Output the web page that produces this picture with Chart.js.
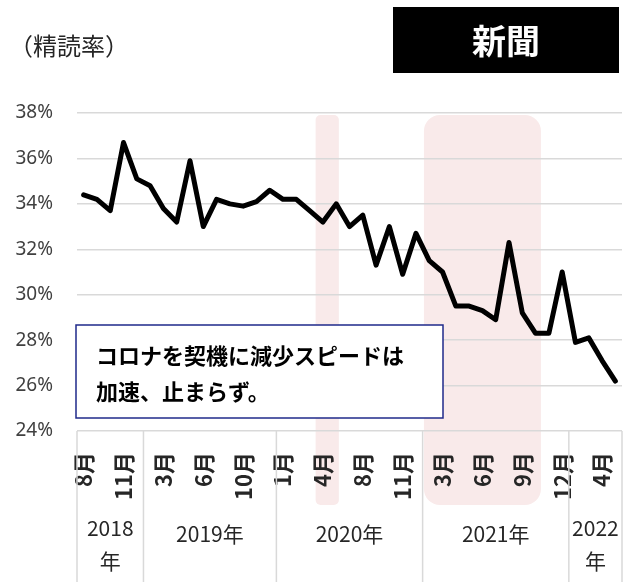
<!DOCTYPE html>
<html>
<head>
<meta charset="utf-8">
<title>新聞 精読率</title>
<script src="https://cdn.jsdelivr.net/npm/chart.js"></script>
<style>
  html, body { margin: 0; padding: 0; background: #fff; }
</style>
</head>
<body>
<canvas id="myChart" width="623" height="582"></canvas>

<script>
  // one category per survey month, 2018/8 - 2022/5
  const months = [8, 9, 10, 11, 12,
                  2, 3, 4, 5, 6, 7, 9, 10, 11, 12,
                  1, 2, 3, 4, 5, 7, 8, 9, 10, 11, 12,
                  2, 3, 4, 5, 6, 7, 8, 9, 10, 11, 12,
                  2, 3, 4, 5];
  const yearLabels = [['2018', '年'], ['2019年'], ['2020年'], ['2021年'], ['2022', '年']];
  const yearCounts = [5, 10, 11, 11, 4];

  // 精読率 (%)
  const rate = [34.4, 34.2, 33.7, 36.7, 35.1,
                34.8, 33.8, 33.2, 35.9, 33.0, 34.2, 34.0, 33.9, 34.1, 34.6,
                34.2, 34.2, 33.7, 33.2, 34.0, 33.0, 33.5, 31.3, 33.0, 30.9, 32.7,
                31.5, 31.0, 29.5, 29.5, 29.3, 28.9, 32.3, 29.2, 28.3, 28.3, 31.0,
                27.9, 28.1, 27.1, 26.2];

  const yMin = 24, yMax = 38, yStep = 2;

  // shaded periods, in category index units
  const bands = [[17.45, 19.2], [25.6, 34.4]];

  const titleText = '（精読率）';
  const mediaText = '新聞';
  const noteLines = ['コロナを契機に減少スピードは', '加速、止まらず。'];

  const jp = "'Noto Sans CJK JP', sans-serif";
  const gridColor = '#d9d9d9';

  function roundRect(ctx, x, y, w, h, r) {
    ctx.beginPath();
    ctx.moveTo(x + r, y);
    ctx.arcTo(x + w, y, x + w, y + h, r);
    ctx.arcTo(x + w, y + h, x, y + h, r);
    ctx.arcTo(x, y + h, x, y, r);
    ctx.arcTo(x, y, x + w, y, r);
    ctx.closePath();
  }

  const bandPlugin = {
    id: 'bands',
    beforeDraw(chart) {
      const ctx = chart.ctx, x = chart.scales.x, a = chart.chartArea;
      ctx.save();
      ctx.fillStyle = '#f9eaea';
      bands.forEach(b => {
        const x0 = x.getPixelForValue(b[0]), x1 = x.getPixelForValue(b[1]);
        const w = x1 - x0;
        roundRect(ctx, x0, a.top + 2, w, a.bottom + 74 - a.top - 2, w < 30 ? 5 : 16);
        ctx.fill();
      });
      ctx.restore();
    }
  };

  const tablePlugin = {
    id: 'yearTable',
    afterDraw(chart) {
      const ctx = chart.ctx, x = chart.scales.x, a = chart.chartArea;
      const bottom = chart.height;
      ctx.save();
      ctx.strokeStyle = gridColor;
      ctx.lineWidth = 1.5;
      let start = 0;
      const edges = [a.left];
      yearCounts.forEach(n => {
        start += n;
        edges.push(start === months.length ? a.right : x.getPixelForValue(start - 0.5));
      });
      edges.forEach(px => {
        ctx.beginPath();
        ctx.moveTo(px, a.bottom);
        ctx.lineTo(px, bottom);
        ctx.stroke();
      });
      ctx.fillStyle = '#262626';
      ctx.font = '21px ' + jp;
      ctx.textAlign = 'center';
      ctx.textBaseline = 'middle';
      yearLabels.forEach((lines, i) => {
        const cx = (edges[i] + edges[i + 1]) / 2;
        if (lines.length === 1) {
          ctx.fillText(lines[0], cx, a.bottom + 103);
        } else {
          ctx.fillText(lines[0], cx, a.bottom + 97);
          ctx.fillText(lines[1], cx, a.bottom + 130);
        }
      });
      ctx.restore();
    }
  };

  const notePlugin = {
    id: 'notes',
    afterDraw(chart) {
      const ctx = chart.ctx, a = chart.chartArea;
      ctx.save();
      // header
      ctx.fillStyle = '#262626';
      ctx.font = '24px ' + jp;
      ctx.textBaseline = 'middle';
      ctx.textAlign = 'left';
      ctx.fillText(titleText, 9, 46);
      ctx.fillStyle = '#000';
      ctx.fillRect(393, 7, 226, 66);
      ctx.fillStyle = '#fff';
      ctx.font = 'bold 34px ' + jp;
      ctx.textAlign = 'center';
      ctx.fillText(mediaText, 506, 41);
      // callout
      const bx = a.left - 1, by = 325, bw = 367, bh = 93;
      ctx.fillStyle = '#fff';
      ctx.fillRect(bx, by, bw, bh);
      ctx.strokeStyle = '#1f2a8a';
      ctx.lineWidth = 1.5;
      ctx.strokeRect(bx, by, bw, bh);
      ctx.fillStyle = '#000';
      ctx.font = 'bold 22px ' + jp;
      ctx.textAlign = 'left';
      ctx.fillText(noteLines[0], bx + 20, by + 31);
      ctx.fillText(noteLines[1], bx + 20, by + 67);
      ctx.restore();
    }
  };

  const ctx = document.getElementById('myChart').getContext('2d');
  const myChart = new Chart(ctx, {
    type: 'line',
    data: {
      labels: months.map(m => m + '月'),
      datasets: [{
        data: rate,
        borderColor: '#000',
        borderWidth: 5,
        borderJoinStyle: 'round',
        borderCapStyle: 'round',
        pointRadius: 0,
        fill: false,
        tension: 0
      }]
    },
    options: {
      responsive: false,
      animation: false,
      layout: { padding: { top: 113, right: 1, left: 0, bottom: 0 } },
      plugins: {
        legend: { display: false },
        tooltip: { enabled: false }
      },
      scales: {
        x: {
          offset: true,
          grid: { display: false },
          border: { display: false },
          ticks: {
            autoSkip: false,
            minRotation: 90,
            maxRotation: 90,
            padding: 13,
            color: '#262626',
            font: { family: jp, size: 22, weight: 'bold' },
            callback: (v, i) => (i % 3 === 0 ? months[i] + '月' : '')
          },
          afterFit: s => {
            s.height = 151;
            s.paddingLeft = 0;
            s.paddingRight = 0;
          }
        },
        y: {
          min: yMin,
          max: yMax,
          grid: { color: gridColor, lineWidth: 1.5, drawTicks: false },
          border: { display: false },
          ticks: {
            stepSize: yStep,
            padding: 24,
            color: '#404040',
            font: { family: "'Noto Sans', sans-serif", size: 19 },
            callback: v => v + '%'
          },
          afterFit: s => { s.width = 77; }
        }
      }
    },
    plugins: [bandPlugin, tablePlugin, notePlugin]
  });
</script>
</body>
</html>
